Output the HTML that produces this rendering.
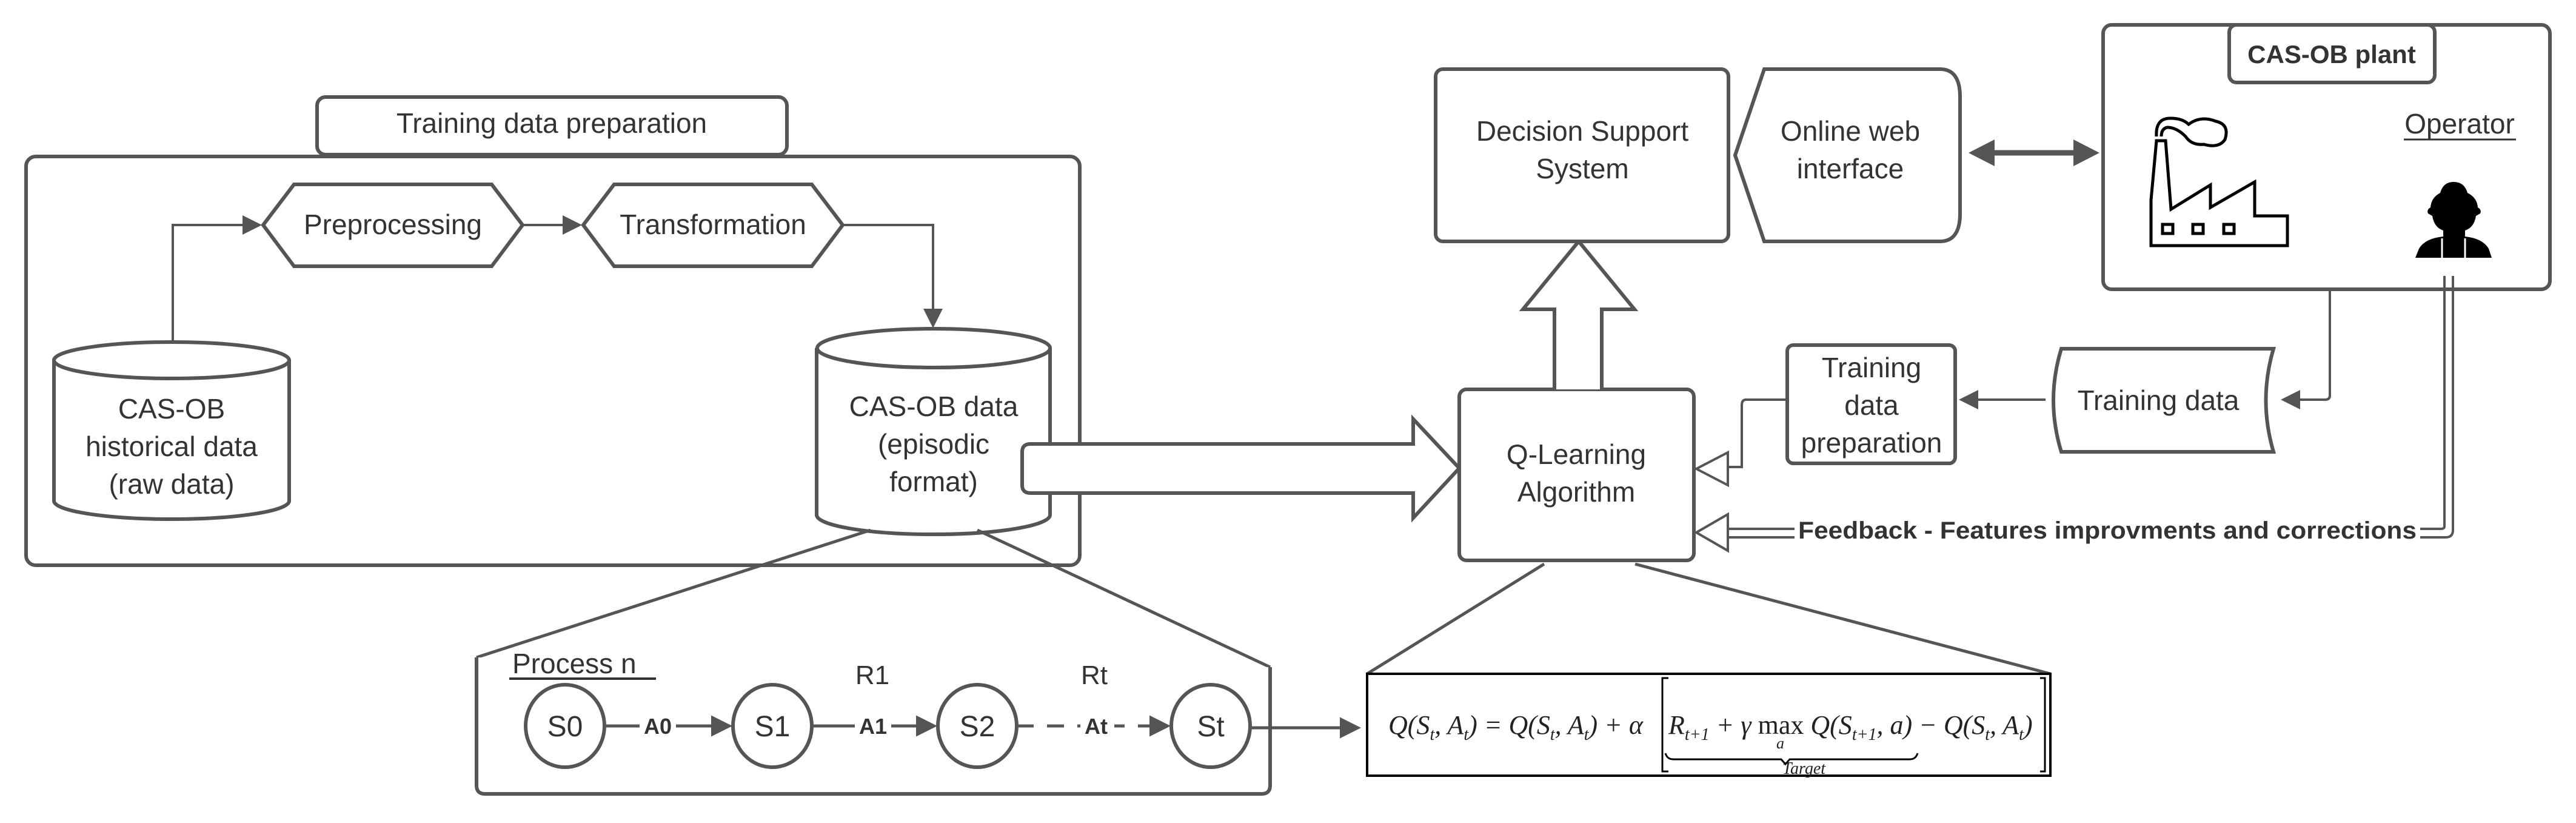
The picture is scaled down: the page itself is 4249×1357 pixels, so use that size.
<!DOCTYPE html>
<html><head><meta charset="utf-8"><style>html,body{margin:0;padding:0;background:#fff}svg{display:block}</style></head>
<body>
<svg width="4249" height="1357" viewBox="0 0 4249 1357" xmlns="http://www.w3.org/2000/svg" font-family="Liberation Sans, sans-serif" fill="none" stroke="#555" stroke-width="6">
<defs>
<marker id="ah" markerWidth="8" markerHeight="8" refX="7" refY="4" orient="auto" markerUnits="strokeWidth"><path d="M0,0 L8,4 L0,8 Z" fill="#555" stroke="none"/></marker>
<marker id="ah2" markerWidth="7" markerHeight="7" refX="6" refY="3.5" orient="auto" markerUnits="strokeWidth"><path d="M0,0 L7,3.5 L0,7 Z" fill="#555" stroke="none"/></marker>
</defs>

<rect x="43" y="258" width="1738" height="674" rx="16"/>
<rect x="523" y="160" width="775" height="95" rx="14" fill="#fff"/>
<text x="910" y="219" font-size="46" fill="#333" stroke="none" text-anchor="middle">Training data preparation</text>

<polygon points="434,371 485,304 811,304 862,371 811,439 485,439" fill="#fff"/>
<text x="648" y="386" font-size="46" fill="#333" stroke="none" text-anchor="middle">Preprocessing</text>
<polygon points="962,371 1013,304 1339,304 1390,371 1339,439 1013,439" fill="#fff"/>
<text x="1176" y="386" font-size="46" fill="#333" stroke="none" text-anchor="middle">Transformation</text>

<path d="M285,564 V371 H428" stroke-width="4" marker-end="url(#ah)"/>
<path d="M862,371 H956" stroke-width="4" marker-end="url(#ah)"/>
<path d="M1390,371 H1539 V537" stroke-width="4" marker-end="url(#ah)"/>

<path d="M89,594 V826 A194,30 0 0 0 477,826 V594" fill="#fff"/>
<ellipse cx="283" cy="594" rx="194" ry="30" fill="#fff"/>
<text font-size="46" fill="#333" stroke="none" text-anchor="middle"><tspan x="283" y="690">CAS-OB</tspan><tspan x="283" y="752">historical data</tspan><tspan x="283" y="814">(raw data)</tspan></text>

<path d="M1347,574 V849 A192,32 0 0 0 1732,849 V574" fill="#fff"/>
<ellipse cx="1540" cy="574" rx="192" ry="32" fill="#fff"/>
<text font-size="46" fill="#333" stroke="none" text-anchor="middle"><tspan x="1540" y="686">CAS-OB data</tspan><tspan x="1540" y="748">(episodic</tspan><tspan x="1540" y="810">format)</tspan></text>

<path d="M1700,732 H2331 V691 L2407,772 L2331,854 V813 H1700 Q1686,813 1686,800 V745 Q1686,732 1700,732 Z" fill="#fff"/>

<rect x="2407" y="642" width="387" height="282" rx="12" fill="#fff"/>
<text font-size="46" fill="#333" stroke="none" text-anchor="middle"><tspan x="2600" y="765">Q-Learning</tspan><tspan x="2600" y="827">Algorithm</tspan></text>

<path d="M2564,642 V510 H2512 L2604,398 L2696,510 H2642 V642" fill="#fff"/>

<rect x="2368" y="114" width="483" height="284" rx="12" fill="#fff"/>
<text font-size="46" fill="#333" stroke="none" text-anchor="middle"><tspan x="2610" y="232">Decision Support</tspan><tspan x="2610" y="294">System</tspan></text>
<path d="M2910,114 H3200 Q3233,114 3233,160 V352 Q3233,398 3200,398 H2910 L2862,256 Z" fill="#fff"/>
<text font-size="46" fill="#333" stroke="none" text-anchor="middle"><tspan x="3052" y="232">Online web</tspan><tspan x="3052" y="294">interface</tspan></text>

<path d="M3280,252 H3430" stroke-width="9"/>
<path d="M3247,252 L3290,230 L3290,274 Z M3463,252 L3420,230 L3420,274 Z" fill="#555" stroke="none"/>

<rect x="3469" y="41" width="737" height="436" rx="14" fill="#fff"/>
<rect x="3677" y="41" width="339" height="95" rx="12" fill="#fff"/>
<text x="3846" y="104" font-size="42" font-weight="bold" fill="#333" stroke="none" text-anchor="middle">CAS-OB plant</text>
<text x="4057" y="220" font-size="46" fill="#333" stroke="none" text-anchor="middle">Operator</text>
<line x1="3965" y1="230" x2="4150" y2="230" stroke-width="3" stroke="#333"/>
<g stroke="#000" stroke-width="5" fill="none">
<path d="M3548,405 V330 L3557,232 H3572 L3581,345 L3646,305 V342 L3719,300 V356 H3773 V405 Z"/>
<rect x="3567" y="370" width="17" height="15"/><rect x="3617" y="370" width="17" height="15"/><rect x="3668" y="370" width="17" height="15"/>
<path d="M3557,225 Q3555,195 3580,195 Q3600,195 3610,205 Q3630,190 3655,200 Q3678,205 3670,230 Q3660,245 3635,238 Q3615,240 3605,225 Q3590,210 3575,210 Q3565,212 3565,225"/>
</g>
<g fill="#000" stroke="none">
<path d="M4047,300 Q4030,300 4025,318 Q4010,326 4009,342 Q4002,346 4005,352 L4012,356 Q4015,375 4030,380 L4030,390 Q4000,393 3990,410 L3984,425 H4110 L4105,410 Q4095,393 4066,390 L4066,380 Q4081,375 4084,356 L4091,352 Q4094,346 4087,342 Q4086,326 4070,318 Q4065,300 4047,300 Z"/>
</g>
<path d="M4028,393 V425 M4066,393 V425" stroke="#fff" stroke-width="3"/>

<path d="M3400,575 H3750 Q3725,660 3750,745 H3400 Q3374,660 3400,575 Z" fill="#fff"/>
<text x="3560" y="676" font-size="46" fill="#333" stroke="none" text-anchor="middle">Training data</text>
<path d="M3843,477 V652 Q3843,659 3835,659 H3766" stroke-width="4" marker-end="url(#ah)"/>

<rect x="2948" y="569" width="277" height="195" rx="10" fill="#fff"/>
<text font-size="46" fill="#333" stroke="none" text-anchor="middle"><tspan x="3087" y="622">Training</tspan><tspan x="3087" y="684">data</tspan><tspan x="3087" y="746">preparation</tspan></text>
<path d="M3374,659 H3235" stroke-width="4" marker-end="url(#ah)"/>
<path d="M2948,659 H2880 Q2873,659 2873,668 V770 H2850" stroke-width="4"/>
<path d="M2798,773 L2850,746 L2850,800 Z" fill="#fff" stroke-width="4"/>

<path d="M4032,455 V868 Q4032,872 4026,872 H2850" stroke-width="4"/>
<path d="M4046,455 V874 Q4046,886 4034,886 H2850" stroke-width="4"/>
<path d="M2798,878 L2850,848 L2850,908 Z" fill="#fff" stroke-width="4"/>
<rect x="2960" y="850" width="1032" height="50" fill="#fff" stroke="none"/>
<text x="3476" y="888" font-size="40" font-weight="bold" fill="#333" stroke="none" text-anchor="middle" textLength="1020" lengthAdjust="spacingAndGlyphs">Feedback - Features improvments and corrections</text>

<path d="M1436,874 L786,1084 M1612,874 L2095,1100" stroke-width="5"/>
<path d="M2547,930 L2255,1111 M2697,930 L3382,1111" stroke-width="5"/>

<path d="M786,1084 V1295 Q786,1309 800,1309 H2081 Q2095,1309 2095,1295 V1100" fill="#fff"/>
<text x="845" y="1110" font-size="46" fill="#333" stroke="none">Process n</text>
<line x1="840" y1="1119" x2="1082" y2="1119" stroke="#333" stroke-width="4"/>
<g fill="#fff">
<ellipse cx="932" cy="1197" rx="65" ry="68"/><ellipse cx="1274" cy="1197" rx="65" ry="68"/>
<ellipse cx="1612" cy="1197" rx="65" ry="68"/><ellipse cx="1997" cy="1197" rx="65" ry="68"/>
</g>
<g font-size="48" fill="#333" stroke="none" text-anchor="middle">
<text x="932" y="1214">S0</text><text x="1274" y="1214">S1</text><text x="1612" y="1214">S2</text><text x="1997" y="1214">St</text>
<text x="1439" y="1128" font-size="44">R1</text><text x="1805" y="1128" font-size="44">Rt</text>
</g>
<path d="M997,1197 H1203" stroke-width="5" marker-end="url(#ah2)"/>
<path d="M1339,1197 H1541" stroke-width="5" marker-end="url(#ah2)"/>
<path d="M1677,1197 H1926" stroke-width="5" stroke-dasharray="28,22" marker-end="url(#ah2)"/>
<g font-size="36" font-weight="bold" fill="#333" stroke="none" text-anchor="middle">
<rect x="1055" y="1175" width="60" height="42" fill="#fff"/><text x="1085" y="1210">A0</text>
<rect x="1410" y="1175" width="60" height="42" fill="#fff"/><text x="1440" y="1210">A1</text>
<rect x="1782" y="1175" width="56" height="42" fill="#fff"/><text x="1808" y="1210">At</text>
</g>
<path d="M2062,1200 H2240" stroke-width="5" marker-end="url(#ah2)"/>

<rect x="2255" y="1111" width="1127" height="168" fill="#fff" stroke="#000" stroke-width="4"/>
<g fill="#222" stroke="none" font-family="Liberation Serif, serif" font-style="italic" font-size="44">
<text x="2290" y="1210">Q(S<tspan font-size="28" dy="10">t</tspan><tspan dy="-10">, A</tspan><tspan font-size="28" dy="10">t</tspan><tspan dy="-10">) = Q(S</tspan><tspan font-size="28" dy="10">t</tspan><tspan dy="-10">, A</tspan><tspan font-size="28" dy="10">t</tspan><tspan dy="-10">) + α</tspan></text>
<text x="2752" y="1210">R<tspan font-size="28" dy="10">t+1</tspan><tspan dy="-10"> + γ </tspan><tspan font-style="normal">max</tspan> Q(S<tspan font-size="28" dy="10">t+1</tspan><tspan dy="-10">, a) − Q(S</tspan><tspan font-size="28" dy="10">t</tspan><tspan dy="-10">, A</tspan><tspan font-size="28" dy="10">t</tspan><tspan dy="-10">)</tspan></text>
<text x="2930" y="1234" font-size="26">a</text>
<text x="2940" y="1276" font-size="28">Target</text>
</g>
<path d="M2752,1118 H2742 V1272 H2752 M3365,1118 H3373 V1272 H3365" stroke="#000" stroke-width="3"/>
<path d="M2747,1242 Q2750,1252 2760,1252 H2938 L2945,1260 L2952,1252 H3150 Q3160,1252 3163,1242" stroke="#000" stroke-width="3"/>
</svg>
</body></html>
